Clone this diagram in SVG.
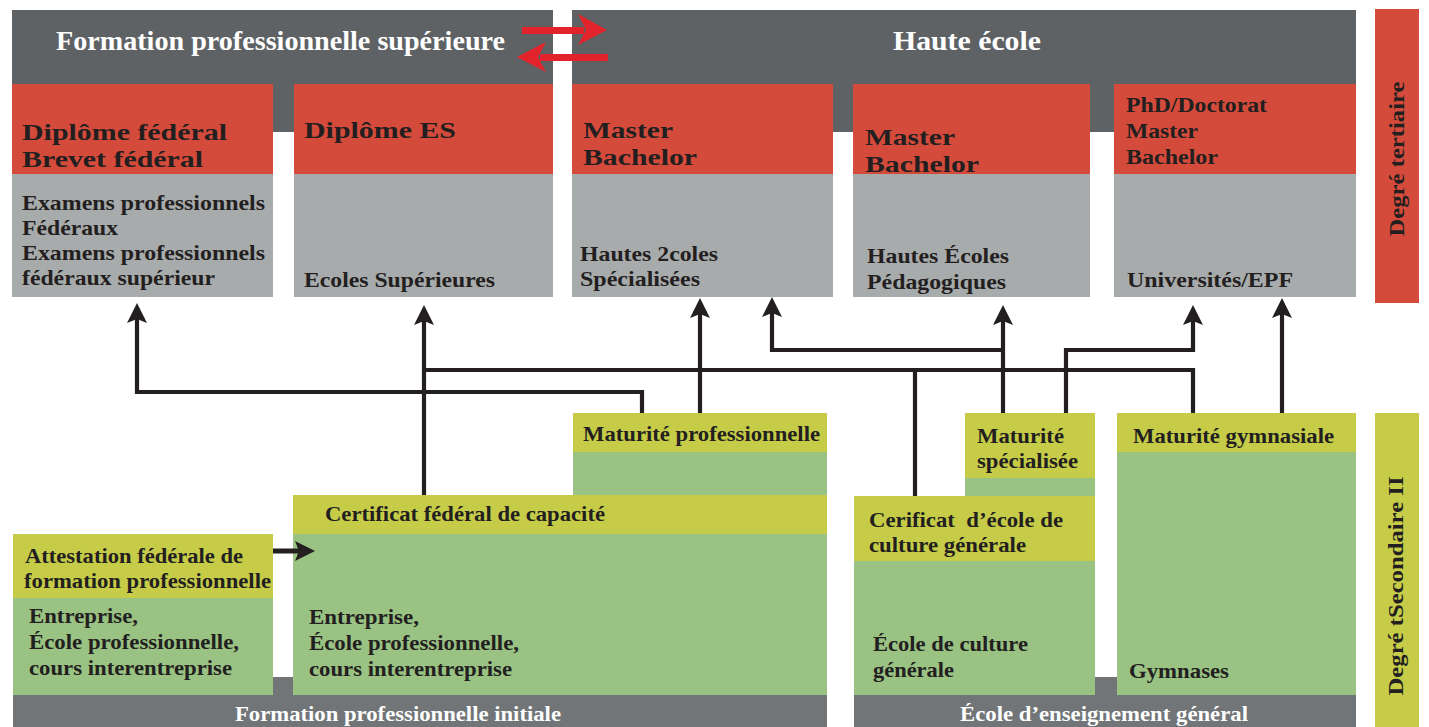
<svg xmlns="http://www.w3.org/2000/svg" width="1429" height="727" viewBox="0 0 1429 727">
<defs>
<style>
.band{fill:#5e6264}
.red{fill:#d54b3b}
.gray{fill:#a8abac}
.yel{fill:#c6cc47}
.grn{fill:#99c283}
.bot{fill:#727577}
text{font-family:"Liberation Serif","Times New Roman",serif;font-weight:bold;fill:#231f20}
.t21{font-size:21px}
.t23{font-size:23px}
.t24{font-size:24px}
.title{font-size:28px;fill:#ffffff}
.white{fill:#ffffff;font-size:20px}
.conn{fill:none;stroke:#231f20;stroke-width:4.2}
.red-arrow{fill:#e3232b}
</style>
<marker id="ah" markerUnits="userSpaceOnUse" markerWidth="20" markerHeight="20" viewBox="0 0 20 20" refX="10" refY="10" orient="auto">
<path d="M0,0 L20,10 L0,20 L4,10 Z" fill="#231f20"/>
</marker>
</defs>

<!-- Top bands -->
<g id="fps-band">
<rect class="band" x="12" y="10" width="541" height="122"/>
<text class="title" x="56" y="50" textLength="449" lengthAdjust="spacingAndGlyphs">Formation professionnelle supérieure</text>
</g>
<g id="he-band">
<rect class="band" x="572" y="10" width="784" height="122"/>
<text class="title" x="893" y="50" textLength="148" lengthAdjust="spacingAndGlyphs">Haute école</text>
</g>

<g id="red-arrows">
<rect class="red-arrow" x="522" y="27" width="62" height="7"/>
<path class="red-arrow" d="M607,30 L578,14 L586,30 L578,45 Z"/>
<rect class="red-arrow" x="540" y="54" width="68" height="7"/>
<path class="red-arrow" d="M517,57 L546,42 L538,57 L546,72 Z"/>
</g>

<!-- Tertiary boxes -->
<g id="box-df">
<rect class="red" x="12" y="84" width="261" height="90"/>
<rect class="gray" x="12" y="174" width="261" height="123"/>
<text class="t24" x="22" y="140" textLength="205" lengthAdjust="spacingAndGlyphs">Diplôme fédéral</text>
<text class="t24" x="22" y="167" textLength="181" lengthAdjust="spacingAndGlyphs">Brevet fédéral</text>
<text class="t21" x="22" y="210" textLength="243" lengthAdjust="spacingAndGlyphs">Examens professionnels</text>
<text class="t21" x="22" y="235" textLength="96" lengthAdjust="spacingAndGlyphs">Fédéraux</text>
<text class="t21" x="22" y="260" textLength="243" lengthAdjust="spacingAndGlyphs">Examens professionnels</text>
<text class="t21" x="22" y="285" textLength="193" lengthAdjust="spacingAndGlyphs">fédéraux supérieur</text>
</g>
<g id="box-es">
<rect class="red" x="294" y="84" width="259" height="90"/>
<rect class="gray" x="294" y="174" width="259" height="123"/>
<text class="t24" x="304" y="138" textLength="152" lengthAdjust="spacingAndGlyphs">Diplôme ES</text>
<text class="t21" x="304" y="287" textLength="191" lengthAdjust="spacingAndGlyphs">Ecoles Supérieures</text>
</g>
<g id="box-hes">
<rect class="red" x="572" y="84" width="261" height="90"/>
<rect class="gray" x="572" y="174" width="261" height="123"/>
<text class="t23" x="583" y="138" textLength="90" lengthAdjust="spacingAndGlyphs">Master</text>
<text class="t23" x="583" y="165" textLength="114" lengthAdjust="spacingAndGlyphs">Bachelor</text>
<text class="t21" x="580" y="261" textLength="138" lengthAdjust="spacingAndGlyphs">Hautes 2coles</text>
<text class="t21" x="580" y="286" textLength="120" lengthAdjust="spacingAndGlyphs">Spécialisées</text>
</g>
<g id="box-hep">
<rect class="red" x="853" y="84" width="237" height="90"/>
<rect class="gray" x="853" y="174" width="237" height="123"/>
<text class="t23" x="865" y="145" textLength="90" lengthAdjust="spacingAndGlyphs">Master</text>
<text class="t23" x="865" y="172" textLength="114" lengthAdjust="spacingAndGlyphs">Bachelor</text>
<text class="t21" x="867" y="263" textLength="142" lengthAdjust="spacingAndGlyphs">Hautes Écoles</text>
<text class="t21" x="867" y="289" textLength="139" lengthAdjust="spacingAndGlyphs">Pédagogiques</text>
</g>
<g id="box-uni">
<rect class="red" x="1114" y="84" width="242" height="90"/>
<rect class="gray" x="1114" y="174" width="242" height="123"/>
<text class="t21" x="1126" y="112" textLength="141" lengthAdjust="spacingAndGlyphs">PhD/Doctorat</text>
<text class="t21" x="1126" y="138" textLength="72" lengthAdjust="spacingAndGlyphs">Master</text>
<text class="t21" x="1126" y="164" textLength="92" lengthAdjust="spacingAndGlyphs">Bachelor</text>
<text class="t21" x="1127" y="287" textLength="166" lengthAdjust="spacingAndGlyphs">Universités/EPF</text>
</g>

<g id="side-tertiaire">
<rect class="red" x="1375" y="9" width="44" height="294"/>
<text class="t21" transform="translate(1404,159) rotate(-90)" text-anchor="middle" textLength="155" lengthAdjust="spacingAndGlyphs">Degré tertiaire</text>
</g>

<!-- Secondary II -->
<g id="fpi-band">
<rect class="bot" x="13" y="677" width="814" height="50"/>
<text class="white" x="398" y="721" text-anchor="middle" textLength="326" lengthAdjust="spacingAndGlyphs">Formation professionnelle initiale</text>
</g>
<g id="eeg-band">
<rect class="bot" x="854" y="677" width="502" height="50"/>
<text class="white" x="1104" y="721" text-anchor="middle" textLength="288" lengthAdjust="spacingAndGlyphs">École d’enseignement général</text>
</g>

<g id="box-afp">
<rect class="yel" x="13" y="534" width="260" height="64"/>
<rect class="grn" x="13" y="598" width="260" height="97"/>
<text class="t21" x="25" y="563" textLength="218" lengthAdjust="spacingAndGlyphs">Attestation fédérale de</text>
<text class="t21" x="24" y="588" textLength="247" lengthAdjust="spacingAndGlyphs">formation professionnelle</text>
<text class="t21" x="29" y="623" textLength="109" lengthAdjust="spacingAndGlyphs">Entreprise,</text>
<text class="t21" x="29" y="649" textLength="210" lengthAdjust="spacingAndGlyphs">École professionnelle,</text>
<text class="t21" x="29" y="675" textLength="203" lengthAdjust="spacingAndGlyphs">cours interentreprise</text>
</g>
<g id="box-mp">
<rect class="yel" x="573" y="413" width="254" height="39"/>
<rect class="grn" x="573" y="452" width="254" height="43"/>
<text class="t21" x="583" y="441" textLength="237" lengthAdjust="spacingAndGlyphs">Maturité professionnelle</text>
</g>
<g id="box-cfc">
<rect class="yel" x="293" y="495" width="534" height="39"/>
<rect class="grn" x="293" y="534" width="534" height="161"/>
<text class="t21" x="325" y="521" textLength="280" lengthAdjust="spacingAndGlyphs">Certificat fédéral de capacité</text>
<text class="t21" x="309" y="624" textLength="110" lengthAdjust="spacingAndGlyphs">Entreprise,</text>
<text class="t21" x="309" y="650" textLength="210" lengthAdjust="spacingAndGlyphs">École professionnelle,</text>
<text class="t21" x="309" y="676" textLength="203" lengthAdjust="spacingAndGlyphs">cours interentreprise</text>
</g>
<g id="box-ms">
<rect class="yel" x="965" y="413" width="130" height="65"/>
<rect class="grn" x="965" y="478" width="130" height="18"/>
<text class="t21" x="977" y="443" textLength="87" lengthAdjust="spacingAndGlyphs">Maturité</text>
<text class="t21" x="977" y="468" textLength="101" lengthAdjust="spacingAndGlyphs">spécialisée</text>
</g>
<g id="box-ecg">
<rect class="yel" x="854" y="496" width="241" height="65"/>
<rect class="grn" x="854" y="561" width="241" height="134"/>
<text class="t21" x="869" y="527" textLength="194" lengthAdjust="spacingAndGlyphs" xml:space="preserve">Cerificat  d’école de</text>
<text class="t21" x="869" y="552" textLength="157" lengthAdjust="spacingAndGlyphs">culture générale</text>
<text class="t21" x="873" y="651" textLength="155" lengthAdjust="spacingAndGlyphs">École de culture</text>
<text class="t21" x="873" y="677" textLength="81" lengthAdjust="spacingAndGlyphs">générale</text>
</g>
<g id="box-mg">
<rect class="yel" x="1117" y="413" width="239" height="39"/>
<rect class="grn" x="1117" y="452" width="239" height="243"/>
<text class="t21" x="1133" y="443" textLength="201" lengthAdjust="spacingAndGlyphs">Maturité gymnasiale</text>
<text class="t21" x="1129" y="678" textLength="100" lengthAdjust="spacingAndGlyphs">Gymnases</text>
</g>

<g id="side-secondaire">
<rect class="yel" x="1375" y="413" width="44" height="314"/>
<text class="t21" transform="translate(1403,586) rotate(-90)" text-anchor="middle" textLength="219" lengthAdjust="spacingAndGlyphs">Degré tSecondaire II</text>
</g>

<!-- Connectors -->
<g id="connectors">
<path class="conn" d="M642,413 V392 H137 V313" marker-end="url(#ah)"/>
<path class="conn" d="M424,495 V315" marker-end="url(#ah)"/>
<path class="conn" d="M424,370 H1193 V413"/>
<path class="conn" d="M915,496 V370"/>
<path class="conn" d="M700,413 V308" marker-end="url(#ah)"/>
<path class="conn" d="M1003,413 V315" marker-end="url(#ah)"/>
<path class="conn" d="M1003,350 H772 V307" marker-end="url(#ah)"/>
<path class="conn" d="M1066,413 V350 H1193 V315" marker-end="url(#ah)"/>
<path class="conn" d="M1282,413 V308" marker-end="url(#ah)"/>
<path class="conn" style="stroke-width:5" d="M273,551 H305" marker-end="url(#ah)"/>
</g>
</svg>
